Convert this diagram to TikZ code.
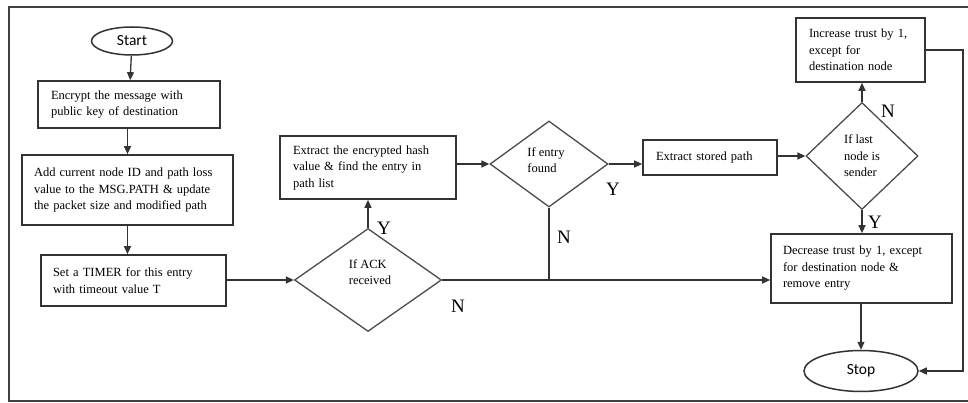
\documentclass[tikz,border=0pt]{standalone}
\usepackage{fontspec}
\setmainfont{Liberation Serif}
\newfontfamily\sff{Carlito}
\usetikzlibrary{shapes.geometric,arrows.meta}
\tikzset{
  ln/.style={draw=black!80, line width=1.3pt},
  arr/.style={ln, -{Triangle[length=8pt,width=7pt]}},
  box/.style={draw=black!80, line width=1.7pt, rectangle, align=left,
    font=\fontsize{12.5}{16.5}\selectfont, inner ysep=2pt},
  dia/.style={draw=black!70, line width=1.3pt, diamond, inner sep=0pt},
  dtext/.style={align=left, font=\fontsize{12.5}{16.5}\selectfont, inner sep=0pt},
  term/.style={draw=black!80, line width=1.5pt, ellipse, font=\sff\fontsize{15.5}{18}\selectfont},
  yn/.style={font=\fontsize{19}{21}\selectfont, inner sep=0pt}
}
\begin{document}
\begin{tikzpicture}[x=1pt,y=-1pt]
\useasboundingbox (0,0) rectangle (968,403);
\fill[white] (0,0) rectangle (968,403);
\draw[draw=black!75, line width=1.2pt] (968,7) -- (9,7) -- (9,401) -- (968,401);

\node[term, minimum width=81pt, minimum height=28pt] (start) at (132,41) {Start};
\node[box, text width=156pt, inner xsep=13pt, minimum height=47pt] (enc) at (129,104.5)
  {Encrypt the message with\\public key of destination};
\node[box, text width=187pt, inner xsep=12pt, minimum height=70pt] (add) at (127.5,190)
  {Add current node ID and path loss\\value to the MSG.PATH \& update\\the packet size and modified path};
\node[box, text width=161pt, inner xsep=12pt, minimum height=51pt] (timer) at (133.5,280.5)
  {Set a TIMER for this entry\\with timeout value T};

\node[dia, minimum width=147pt, minimum height=103pt] (ack) at (368,280) {};
\node[dtext] (acktxt) at (370,272) {If ACK\\received};

\node[box, text width=150pt, inner xsep=13pt, minimum height=63pt] (hash) at (368,167.5)
  {Extract the encrypted hash\\value \& find the entry in\\path list};

\node[dia, minimum width=118pt, minimum height=86pt] (entry) at (549,164) {};
\node[dtext] (entrytxt) at (546,160) {If entry\\found};

\node[box, text width=108pt, inner xsep=13pt, minimum height=35pt] (stored) at (710,157.5)
  {Extract stored path};

\node[dia, minimum width=112pt, minimum height=107pt] (last) at (862,156) {};
\node[dtext] (lasttxt) at (862,156) {If last\\node is\\sender};

\node[box, text width=103pt, inner xsep=13pt, minimum height=64pt] (inc) at (860.5,50)
  {Increase trust by 1,\\except for\\destination node};
\node[box, text width=157pt, inner xsep=12pt, minimum height=69pt] (dec) at (861.5,268.5)
  {Decrease trust by 1, except\\for destination node \&\\remove entry};

\node[term, minimum width=114pt, minimum height=41pt] (stop) at (861,371) {Stop};

\coordinate (rx) at (963,0);

\draw[arr] (start) -- (enc);
\draw[arr] (enc.south -| add.north) -- (add.north);
\draw[arr] (add) -- (timer.north -| add);
\draw[arr] (timer.east |- ack.west) -- (ack.west);
\draw[arr] (ack.north) -- (hash.south);
\draw[arr] (hash.east |- entry.west) -- (entry.west);
\draw[arr] (entry.east) -- (entry.east -| stored.west);
\draw[arr] (stored.east |- last.west) -- (last.west);
\draw[arr] (last.north) -- (last.north |- inc.south);
\draw[arr] (last.south) -- (last.south |- dec.north);
\draw[arr] (ack.east) -- (dec.west |- ack.east);
\draw[ln] (entry.south) -- (entry.south |- ack.east);
\draw[arr] (dec.south -| stop.north) -- (stop.north);
\draw[arr] (inc.east) -- (inc.east -| rx) |- (stop.east);

\node[yn] (y1) at (384,228) {Y};
\node[yn] (n1) at (458,306) {N};
\node[yn] (n2) at (564,237) {N};
\node[yn] (y2) at (613,189) {Y};
\node[yn] (n3) at (888,111) {N};
\node[yn] (y3) at (875,222) {Y};
\end{tikzpicture}
\end{document}
